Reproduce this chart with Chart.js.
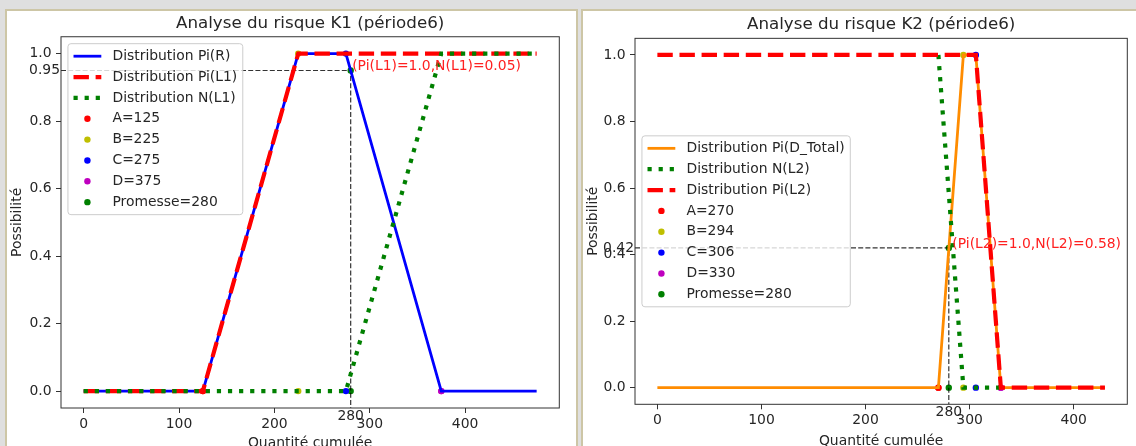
<!DOCTYPE html>
<html>
<head>
<meta charset="utf-8">
<script src="https://cdn.jsdelivr.net/npm/chart.js@4.4.1/dist/chart.umd.min.js"></script>
<style>
  html, body { margin: 0; padding: 0; width: 1136px; height: 446px; overflow: hidden; background: #dfdfdf; }
  .panel { position: absolute; top: 9px; height: 470px; border: 2px solid #cdc6a6; background: #fff; box-sizing: border-box; }
  #p1 { left: 5px; width: 573px; }
  #p2 { left: 581px; width: 600px; }
  canvas { position: absolute; top: 0; left: 0; }
</style>
</head>
<body>
<div class="panel" id="p1"><canvas id="k1" width="569" height="445"></canvas></div>
<div class="panel" id="p2"><canvas id="k2" width="553" height="445"></canvas></div>
<script>
// ---- K1 (période6) ----
const k1RQty = [0, 125, 225, 275, 375, 475];
const k1PiR = [0, 0, 1, 1, 0, 0];
const k1LQty = [0, 125, 225, 475];
const k1PiL = [0, 0, 1, 1];
const k1NQty = [0, 275, 375, 475];
const k1NL = [0, 0, 1, 1];
const k1MarkNames = ['A', 'B', 'C', 'D', 'Promesse'];
const k1MarkQty = [125, 225, 275, 375, 280];
const k1MarkLevel = [0, 1, 1, 0, 0.95];
const k1Note = '(Pi(L1)=1.0,N(L1)=0.05)';

// ---- K2 (période6) ----
const k2DQty = [0, 270, 294, 306, 330, 430];
const k2PiD = [0, 0, 1, 1, 0, 0];
const k2NQty = [270, 294, 330];
const k2NL = [1, 0, 0];
const k2LQty = [0, 306, 330, 430];
const k2PiL = [1, 1, 0, 0];
const k2MarkNames = ['A', 'B', 'C', 'D', 'Promesse'];
const k2MarkQty = [270, 294, 306, 330, 280];
const k2MarkLevel = [0, 1, 1, 0, 0.42];
const k2Note = '(Pi(L2)=1.0,N(L2)=0.58)';

// axes
const xTicks = [0, 100, 200, 300, 400];
const yTicks = [0, 0.2, 0.4, 0.6, 0.8, 1.0];
const yMin = -0.05, yMax = 1.05;
const markColors = ['#ff0000', '#bfbf00', '#0000ff', '#bf00bf', '#008000'];

const FAMILY = 'DejaVu Sans';
const FS = 13.9;
const TXT = '#262626';

const pts = (xs, ys) => xs.map((x, i) => ({ x: x, y: ys[i] }));

// spines, textes annotés et légende façon matplotlib
const overlay = {
    id: 'overlay',
    afterDatasetsDraw(chart, args, o) {
        const { ctx, chartArea: a, scales: { x, y } } = chart;
        ctx.save();
        ctx.strokeStyle = '#333';
        ctx.lineWidth = 1;
        ctx.strokeRect(a.left, a.top, a.right - a.left, a.bottom - a.top);

        ctx.font = FS + 'px "' + FAMILY + '"';
        ctx.fillStyle = '#ff2020';
        ctx.textAlign = 'left';
        ctx.textBaseline = 'alphabetic';
        ctx.fillText(o.note, x.getPixelForValue(o.promise) + o.noteDx, y.getPixelForValue(o.level));

        ctx.fillStyle = TXT;
        ctx.textAlign = 'right';
        ctx.textBaseline = 'middle';
        ctx.fillText(o.level.toFixed(2), a.left - 1, y.getPixelForValue(o.level));
        ctx.textAlign = 'center';
        ctx.textBaseline = 'top';
        ctx.fillText(String(o.promise), x.getPixelForValue(o.promise), a.bottom + 1);

        // légende
        const items = chart.data.datasets.filter(d => d.inLegend);
        const pad = 0.4 * FS, hl = 2 * FS, tp = 0.8 * FS, sp = 0.5 * FS;
        const tw = Math.max(...items.map(d => ctx.measureText(d.label).width));
        const w = pad * 2 + hl + tp + tw;
        const h = pad * 2 + items.length * FS + (items.length - 1) * sp;
        const bx = a.left + 0.5 * FS;
        const by = o.legendPos === 'center' ? (a.top + a.bottom) / 2 - h / 2 : a.top + 0.5 * FS;
        ctx.beginPath();
        ctx.roundRect(bx, by, w, h, 3);
        ctx.fillStyle = 'rgba(255,255,255,0.8)';
        ctx.fill();
        ctx.strokeStyle = '#cccccc';
        ctx.stroke();
        items.forEach((d, i) => {
            const cy = by + pad + i * (FS + sp) + FS / 2;
            if (d.type === 'scatter') {
                ctx.beginPath();
                ctx.arc(bx + pad + hl / 2, cy, 3.2, 0, Math.PI * 2);
                ctx.fillStyle = d.backgroundColor;
                ctx.fill();
            } else {
                ctx.beginPath();
                ctx.setLineDash(d.borderDash || []);
                ctx.strokeStyle = d.borderColor;
                ctx.lineWidth = d.borderWidth;
                ctx.moveTo(bx + pad, cy);
                ctx.lineTo(bx + pad + hl, cy);
                ctx.stroke();
                ctx.setLineDash([]);
            }
            ctx.fillStyle = TXT;
            ctx.textAlign = 'left';
            ctx.textBaseline = 'middle';
            ctx.fillText(d.label, bx + pad + hl + tp, cy);
        });
        ctx.restore();
    }
};

function build(id, o) {
    const lineSets = o.lines.map((l, i) => ({
        label: l.label, inLegend: true, data: pts(l.xs, l.ys),
        borderColor: l.color, borderWidth: l.width, borderDash: l.dash,
        pointRadius: 0, tension: 0, fill: false, order: 3 - i
    }));
    const markSets = o.markNames.map((n, i) => ({
        type: 'scatter', label: n + '=' + o.markQty[i], inLegend: true,
        data: [{ x: o.markQty[i], y: 0 }, { x: o.markQty[i], y: o.markLevel[i] }],
        backgroundColor: markColors[i], borderWidth: 0, pointRadius: 3.2, order: 5
    }));
    const level = o.markLevel[4], promise = o.markQty[4];
    const refSet = {
        label: 'ref', inLegend: false,
        data: [{ x: o.xMin, y: level }, { x: promise, y: level }, { x: promise, y: yMin }],
        borderColor: 'rgba(0,0,0,0.8)', borderWidth: 1.2, borderDash: [5, 2.2],
        pointRadius: 0, tension: 0, fill: false, order: 4
    };
    const font = { family: FAMILY, size: FS };

    new Chart(document.getElementById(id), {
        type: 'line',
        data: { datasets: [...lineSets, ...markSets, refSet] },
        options: {
            responsive: false,
            animation: false,
            devicePixelRatio: 1,
            events: [],
            layout: { padding: { left: 0, top: 0, right: o.padRight, bottom: 0 } },
            scales: {
                x: {
                    type: 'linear', min: o.xMin, max: o.xMax,
                    afterBuildTicks: s => { s.ticks = xTicks.map(v => ({ value: v })); },
                    afterFit: s => { s.height = o.xAxisH; },
                    ticks: { font: font, color: TXT, padding: 3, maxRotation: 0, autoSkip: false, callback: v => String(v) },
                    grid: { drawOnChartArea: false, drawTicks: true, tickLength: 5, color: '#333' },
                    border: { display: false },
                    title: { display: true, text: 'Quantité cumulée', font: font, color: TXT, padding: { top: 0, bottom: o.xTitlePad } }
                },
                y: {
                    type: 'linear', min: yMin, max: yMax,
                    afterBuildTicks: s => { s.ticks = yTicks.map(v => ({ value: v })); },
                    afterFit: s => { s.width = o.yAxisW; },
                    ticks: { font: font, color: TXT, padding: 4.5, autoSkip: false, callback: v => v.toFixed(1) },
                    grid: { drawOnChartArea: false, drawTicks: true, tickLength: 5, color: '#333' },
                    border: { display: false },
                    title: { display: true, text: 'Possibilité', font: font, color: TXT, padding: { top: 2.5, bottom: 0 } }
                }
            },
            plugins: {
                legend: { display: false },
                tooltip: { enabled: false },
                title: {
                    display: true, text: o.title, fullSize: false, color: TXT,
                    font: { family: FAMILY, size: 16.7, weight: 'normal' },
                    padding: { top: o.tPadTop, bottom: o.tPadBottom }
                },
                overlay: { note: o.note, noteDx: o.noteDx, level: level, promise: promise, legendPos: o.legendPos }
            }
        },
        plugins: [overlay]
    });
}

build('k1', {
    title: 'Analyse du risque K1 (période6)',
    lines: [
        { label: 'Distribution Pi(R)', xs: k1RQty, ys: k1PiR, color: '#0000ff', width: 2.8, dash: [] },
        { label: 'Distribution Pi(L1)', xs: k1LQty, ys: k1PiL, color: '#ff0000', width: 4.2, dash: [15.4, 6.7] },
        { label: 'Distribution N(L1)', xs: k1NQty, ys: k1NL, color: '#008000', width: 4.2, dash: [4.2, 6.9] }
    ],
    markNames: k1MarkNames, markQty: k1MarkQty, markLevel: k1MarkLevel,
    note: k1Note, noteDx: 1.5, legendPos: 'top',
    xMin: -23.75, xMax: 498.75,
    padRight: 16.7, yAxisW: 54, xAxisH: 48, xTitlePad: 4.7, tPadTop: 2.5, tPadBottom: 3.2
});

build('k2', {
    title: 'Analyse du risque K2 (période6)',
    lines: [
        { label: 'Distribution Pi(D_Total)', xs: k2DQty, ys: k2PiD, color: '#ff8c00', width: 2.8, dash: [] },
        { label: 'Distribution N(L2)', xs: k2NQty, ys: k2NL, color: '#008000', width: 4.2, dash: [4.2, 6.9] },
        { label: 'Distribution Pi(L2)', xs: k2LQty, ys: k2PiL, color: '#ff0000', width: 4.2, dash: [15.4, 6.7] }
    ],
    markNames: k2MarkNames, markQty: k2MarkQty, markLevel: k2MarkLevel,
    note: k2Note, noteDx: 3.5, legendPos: 'center',
    xMin: -21.5, xMax: 451.5,
    padRight: 8.7, yAxisW: 52, xAxisH: 51.7, xTitlePad: 6.7, tPadTop: 3.5, tPadBottom: 3.8
});
</script>
</body>
</html>
